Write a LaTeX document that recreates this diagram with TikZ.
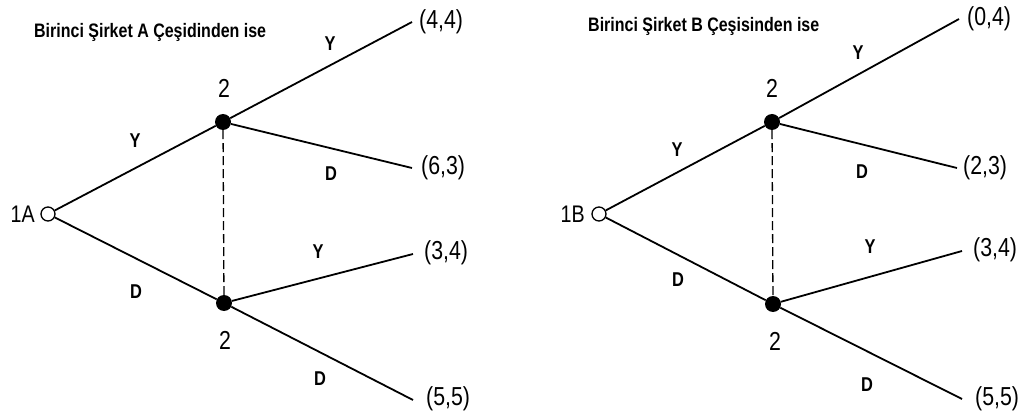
\documentclass[tikz,border=0pt]{standalone}
\usepackage{fontspec}
\setmainfont{Liberation Sans}
\newfontfamily\cond[FakeStretch=0.82]{Liberation Sans}
\begin{document}
\begin{tikzpicture}[x=1pt,y=-1pt,
 open/.style={circle,draw,line width=1.3pt,fill=white,minimum size=14pt,inner sep=0pt},
 dot/.style={circle,fill=black,minimum size=16pt,inner sep=0pt},
 edge/.style={line width=1.8pt},
 info/.style={line width=1.3pt,dash pattern=on 9pt off 4pt},
 lab/.style={font=\cond\bfseries\fontsize{20}{20}\selectfont,inner sep=0pt},
 pay/.style={font=\cond\fontsize{26}{26}\selectfont,anchor=west,inner sep=0pt},
 plabel/.style={font=\cond\fontsize{26}{26}\selectfont,inner sep=0pt},
 rlabel/.style={font=\cond\fontsize{24}{24}\selectfont,inner sep=0pt,anchor=east},
 ttl/.style={font=\cond\bfseries\fontsize{19.5}{20}\selectfont,anchor=west,inner sep=0pt}]
\useasboundingbox (0,0) rectangle (1026,414);
% ---------- left tree ----------
\node[ttl] (tA) at (34,32) {Birinci Şirket A Çeşidinden ise};
\node[open] (rA) at (48,214) {};
\node[rlabel] (lA) at (35,214) {1A};
\node[dot] (uA) at (223,122) {};
\node[dot] (dA) at (224,303) {};
\node[plabel] (uAl) at (224,88) {2};
\node[plabel] (dAl) at (225,340) {2};
\coordinate (eA1) at (412,22);
\coordinate (eA2) at (412,168);
\coordinate (eA3) at (413,254);
\coordinate (eA4) at (413,400);
\node[pay] (pA1) at (419,22) {(4,4)};
\node[pay] (pA2) at (421,168) {(6,3)};
\node[pay] (pA3) at (424,253) {(3,4)};
\node[pay] (pA4) at (426,399) {(5,5)};
\draw[edge] (rA) -- (uA);
\draw[edge] (rA) -- (dA);
\draw[edge] (uA) -- (eA1);
\draw[edge] (uA) -- (eA2);
\draw[edge] (dA) -- (eA3);
\draw[edge] (dA) -- (eA4);
\draw[info] (uA) -- (dA);
\node[lab] (yA0) at (135,141) {Y};
\node[lab] (dA0) at (136,292) {D};
\node[lab] (yA1) at (330,44) {Y};
\node[lab] (dA1) at (331,174) {D};
\node[lab] (yA2) at (318,252) {Y};
\node[lab] (dA2) at (320,379) {D};
% ---------- right tree ----------
\node[ttl] (tB) at (588,26) {Birinci Şirket B Çeşisinden ise};
\node[open] (rB) at (599,214) {};
\node[rlabel] (lB) at (585,214) {1B};
\node[dot] (uB) at (772,122) {};
\node[dot] (dB) at (773,304) {};
\node[plabel] (uBl) at (772,88) {2};
\node[plabel] (dBl) at (775,341) {2};
\coordinate (eB1) at (959,19);
\coordinate (eB2) at (957,168);
\coordinate (eB3) at (962,251);
\coordinate (eB4) at (962,399);
\node[pay] (pB1) at (967,19) {(0,4)};
\node[pay] (pB2) at (963,168) {(2,3)};
\node[pay] (pB3) at (973,250) {(3,4)};
\node[pay] (pB4) at (975,399) {(5,5)};
\draw[edge] (rB) -- (uB);
\draw[edge] (rB) -- (dB);
\draw[edge] (uB) -- (eB1);
\draw[edge] (uB) -- (eB2);
\draw[edge] (dB) -- (eB3);
\draw[edge] (dB) -- (eB4);
\draw[info] (uB) -- (dB);
\node[lab] (yB0) at (677,150) {Y};
\node[lab] (dB0) at (678,280) {D};
\node[lab] (yB1) at (858,53) {Y};
\node[lab] (dB1) at (862,172) {D};
\node[lab] (yB2) at (870,247) {Y};
\node[lab] (dB2) at (867,385) {D};
\end{tikzpicture}
\end{document}
